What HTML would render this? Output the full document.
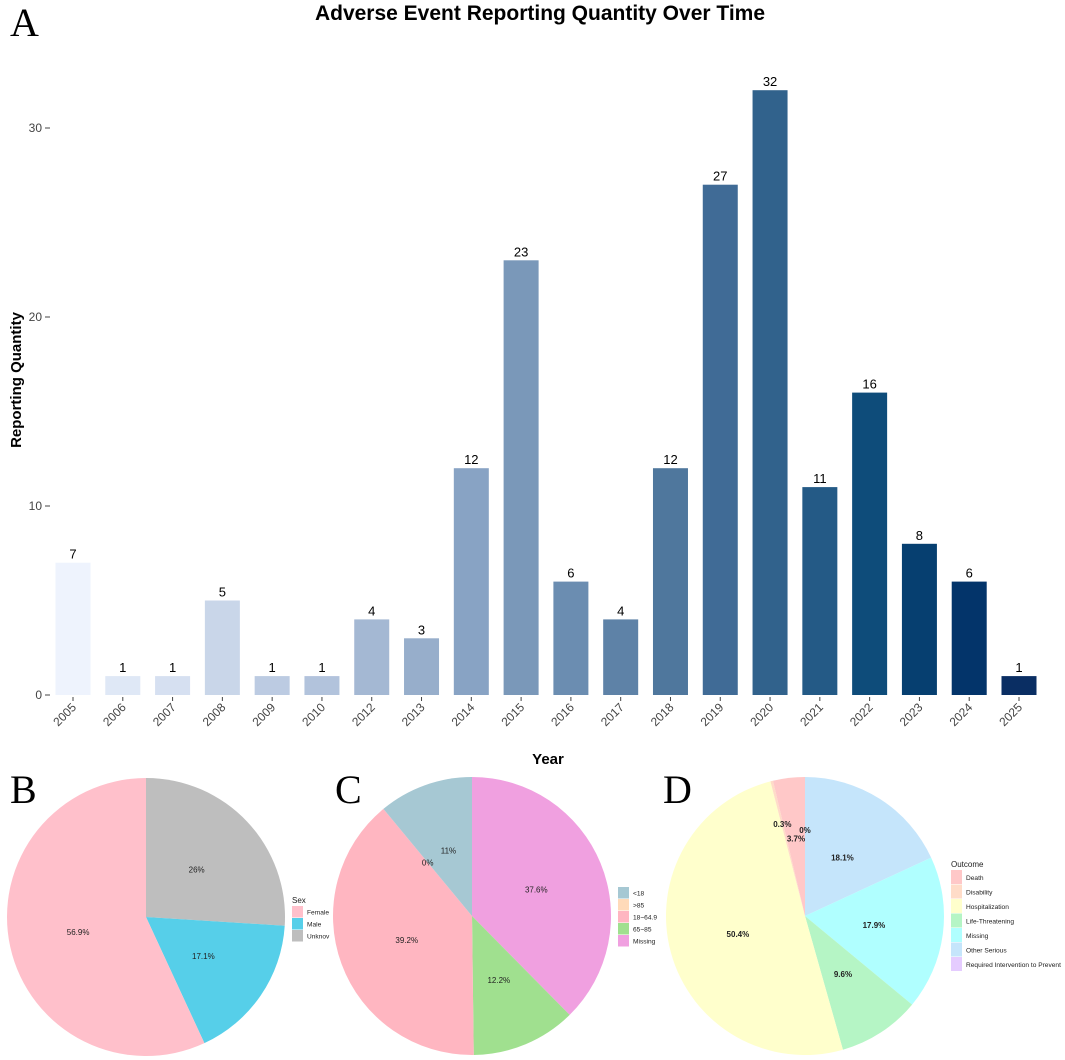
<!DOCTYPE html>
<html><head><meta charset="utf-8"><style>
body{margin:0;background:#fff;}
svg{display:block;font-family:"Liberation Sans",sans-serif;}
</style></head><body>
<svg id="s" width="1065" height="1060">
<text x="540" y="20" text-anchor="middle" font-size="21" font-weight="bold">Adverse Event Reporting Quantity Over Time</text>
<text x="10" y="36" font-family="Liberation Serif" font-size="40">A</text>
<text transform="translate(21,380) rotate(-90)" text-anchor="middle" font-size="15" font-weight="bold">Reporting Quantity</text>
<text x="548" y="764" text-anchor="middle" font-size="15" font-weight="bold">Year</text>
<g id="pies"></g>
<text x="10" y="803" font-family="Liberation Serif" font-size="40">B</text>
<text x="335" y="803" font-family="Liberation Serif" font-size="40">C</text>
<text x="663" y="803" font-family="Liberation Serif" font-size="40">D</text>
<g id="bars"></g>
</svg>
<script>
const years=["2005","2006","2007","2008","2009","2010","2012","2013","2014","2015","2016","2017","2018","2019","2020","2021","2022","2023","2024","2025"];
const counts=[7,1,1,5,1,1,4,3,12,23,6,4,12,27,32,11,16,8,6,1];
const yTicks=[0,10,20,30];
const barColors=["#eef3fd","#dfe8f6","#d6e0f1","#c9d6e9","#bccbe2","#b2c3dc","#a4b8d3","#97aecb","#88a3c4","#7a98b9","#6b8db1","#5e82a7","#4f779d","#406b96","#31628c","#245a86","#0e4c7a","#063f70","#03346a","#0a2e63"];
const sexLabels=["Unknov","Male","Female"],sexVals=[26,17.1,56.9];
const ageLabels=["Missing","65~85","18~64.9",">85","<18"],ageVals=[37.6,12.2,39.2,0,11];
const outLabels=["Other Serious","Missing","Life-Threatening","Hospitalization","Disability","Death","Required Intervention to Prevent"],outVals=[18.1,17.9,9.6,50.4,0.3,3.7,0];
const outLabelR=[0.5,0.5,0.5,0.5,0.68,0.56,0.62];
const NS="http://www.w3.org/2000/svg";
function mk(t,a,p){const e=document.createElementNS(NS,t);for(const k in a)e.setAttribute(k,a[k]);p.appendChild(e);return e;}
const y0=695,pxU=18.9,x0=73,step=(1019-73)/19,bw=35;
const yS=v=>y0-v*pxU, xS=i=>x0+i*step;
const bars=document.getElementById('bars');
yTicks.forEach(t=>{
 const l=mk('line',{x1:45,x2:50,y1:yS(t),y2:yS(t),stroke:'#444'},bars);
 
 
 const tx=mk('text',{x:42,y:yS(t)+4,'text-anchor':'end','font-size':12,fill:'#444'},bars);tx.textContent=t;
 
 
});
years.forEach((y,i)=>{
 const r=mk('rect',{x:xS(i)-bw/2,y:yS(counts[i]),width:bw,height:counts[i]*pxU,fill:barColors[i]},bars);
 
 
 const v=mk('text',{x:xS(i),y:yS(counts[i])-4,'text-anchor':'middle','font-size':13},bars);v.textContent=counts[i];
 
 
 const tk=mk('line',{x1:xS(i),x2:xS(i),y1:697,y2:701,stroke:'#444'},bars);
 
 
 const lx=xS(i)+4,ly=708;
 const t=mk('text',{x:lx,y:ly,'text-anchor':'end','font-size':12,fill:'#444',transform:`rotate(-45 ${lx} ${ly})`},bars);t.textContent=y;
 
 
});
const pies=document.getElementById('pies');
function pie(cx,cy,r,labels,vals,colors,name,fw,lr){
 const g=mk('g',{},pies);
 
 
 let c=0;
 vals.forEach((v,i)=>{
  const a0=c/100*2*Math.PI,a1=(c+v)/100*2*Math.PI;c+=v;
  if(v<=0)return;
  const p=a=>[cx+r*Math.sin(a),cy-r*Math.cos(a)];
  const [xa,ya]=p(a0),[xb,yb]=p(a1);
  const d=`M${cx},${cy}L${xa},${ya}A${r},${r} 0 ${(a1-a0)>Math.PI?1:0} 1 ${xb},${yb}Z`;
  const s=mk('path',{d:d,fill:colors[i]},g);
  
  
 });
 c=0;
 vals.forEach((v,i)=>{
  const am=(c+v/2)/100*2*Math.PI;c+=v;
  const f=lr?lr[i]:0.5;
  const t=mk('text',{x:cx+r*f*Math.sin(am),y:cy-r*f*Math.cos(am)+3,'text-anchor':'middle','font-size':8,'font-weight':fw,fill:'#222'},g);
  t.textContent=(Math.round(v*10)/10)+'%';
  
  
 });
}
function legend(x,y,title,labels,colors,gap,name){
 const g=mk('g',{},pies);
 
 
 const t=mk('text',{x:x,y:y-3,'font-size':8,fill:'#222'},g);t.textContent=title;
 labels.forEach((l,i)=>{
  mk('rect',{x:x,y:y+i*gap,width:11,height:gap-0.5,fill:colors[i]},g);
  const tt=mk('text',{x:x+15,y:y+i*gap+gap/2+2.5,'font-size':6.6,fill:'#222'},g);tt.textContent=l;
  
  
 });
}
pie(146,917,139,sexLabels,sexVals,["#bebebe","#56cfe9","#ffc0cb"],'pie-sex','normal');
legend(292,906,'Sex',["Female","Male","Unknov"],["#ffc0cb","#56cfe9","#bebebe"],12,'legend-sex');
pie(472,916,139,ageLabels,ageVals,["#f0a0e0","#a0e08f","#ffb6c1","#ffdab9","#a6c8d3"],'pie-age','normal');
legend(618,887,'',["<18",">85","18~64.9","65~85","Missing"],["#a6c8d3","#ffdab9","#ffb6c1","#a0e08f","#f0a0e0"],12,'legend-age');
pie(805,916,139,outLabels,outVals,["#c5e5fb","#b0ffff","#b5f5c5","#ffffcc","#ffdcc8","#ffc8c8","#e5ccff"],'pie-outcome','bold',outLabelR);
legend(951,870,'Outcome',["Death","Disability","Hospitalization","Life-Threatening","Missing","Other Serious","Required Intervention to Prevent"],["#ffc8c8","#ffdcc8","#ffffcc","#b5f5c5","#b0ffff","#c5e5fb","#e5ccff"],14.5,'legend-outcome');
</script>
</body></html>
